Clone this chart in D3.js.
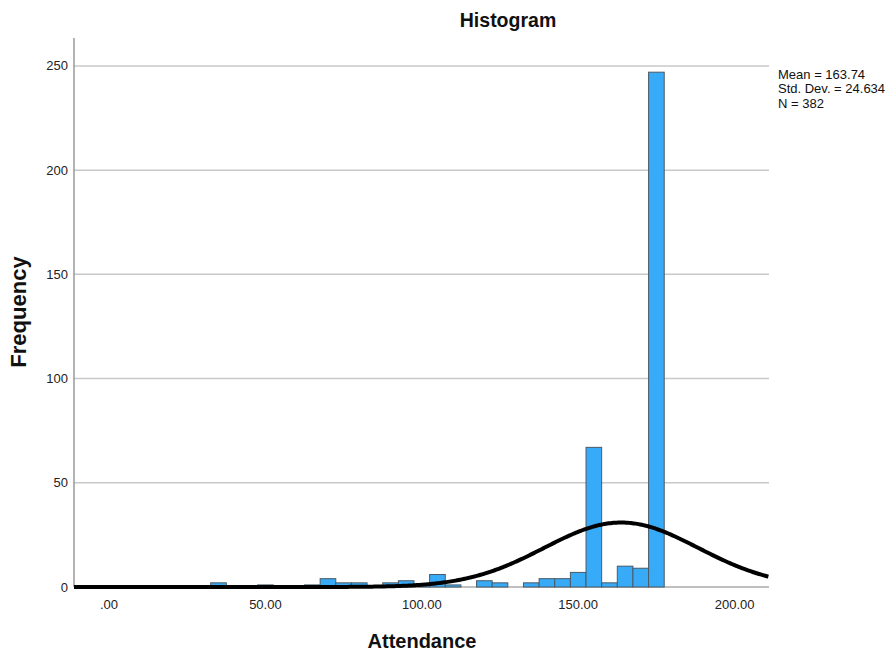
<!DOCTYPE html>
<html>
<head>
<meta charset="utf-8">
<script src="https://cdn.jsdelivr.net/npm/d3@7"></script>
<style>
  html, body { margin: 0; padding: 0; background: #fff; }
  svg { display: block; font-family: "Liberation Sans", Arial, sans-serif; }
</style>
</head>
<body>
<svg id="chart" width="888" height="652"></svg>
<script>
// Bin centers (width 5) and counts
const binCenters = [35, 50, 65, 70, 75, 80, 90, 95, 100, 105, 110, 120, 125, 135, 140, 145, 150, 155, 160, 165, 170, 175];
const counts     = [ 2,  1,  1,  4,  2,  2,  2,  3,   1,   6,   1,   3,   2,   2,   4,   4,   7,  67,   2,  10,   9, 247];
const binWidth = 5;
const xTicks = [0, 50, 100, 150, 200];
const yTicks = [0, 50, 100, 150, 200, 250];
const stats = { mean: 163.74, sd: 24.634, n: 382 };
const legendLines = ["Mean = 163.74", "Std. Dev. = 24.634", "N = 382"];

const svg = d3.select("#chart");
const plotLeft = 74, plotRight = 769, plotTop = 38, plotBottom = 587;

const x = d3.scaleLinear().domain([-11.2, 211]).range([plotLeft, plotRight]);
const y = d3.scaleLinear().domain([0, 263.4]).range([plotBottom, plotTop]);

// gridlines
svg.append("g").selectAll("line").data(yTicks.filter(d => d > 0)).join("line")
  .attr("x1", plotLeft).attr("x2", plotRight)
  .attr("y1", d => y(d)).attr("y2", d => y(d))
  .attr("stroke", "#c8c8c8").attr("stroke-width", 1.5);

// baseline
svg.append("line").attr("x1", plotLeft).attr("x2", plotRight).attr("y1", plotBottom).attr("y2", plotBottom)
  .attr("stroke", "#aaaaaa").attr("stroke-width", 1.5);

// y axis line
svg.append("line").attr("x1", plotLeft).attr("x2", plotLeft).attr("y1", plotTop).attr("y2", plotBottom)
  .attr("stroke", "#999").attr("stroke-width", 1.5);

// bars
const bars = binCenters.map((c, i) => ({ c, v: counts[i] }));
svg.append("g").selectAll("rect").data(bars).join("rect")
  .attr("x", d => x(d.c - binWidth / 2))
  .attr("width", d => x(d.c + binWidth / 2) - x(d.c - binWidth / 2))
  .attr("y", d => y(d.v))
  .attr("height", d => y(0) - y(d.v))
  .attr("fill", "#38abf8")
  .attr("stroke", "#4a5a66").attr("stroke-width", 1);

// normal curve
const curveScale = stats.n * binWidth / (stats.sd * Math.sqrt(2 * Math.PI));
const xs = d3.range(-11.2, 211.01, 0.5);
const line = d3.line().x(d => x(d)).y(d => y(curveScale * Math.exp(-0.5 * Math.pow((d - stats.mean) / stats.sd, 2))));
svg.append("path").datum(xs).attr("d", line)
  .attr("fill", "none").attr("stroke", "#000").attr("stroke-width", 4);

// y tick labels
svg.append("g").selectAll("text").data(yTicks).join("text")
  .attr("x", plotLeft - 6).attr("y", d => y(d)).attr("dy", "0.35em")
  .attr("text-anchor", "end").attr("font-size", 13).attr("fill", "#222")
  .text(d => d);

// x tick labels
const fmt = d => d === 0 ? ".00" : d.toFixed(2);
svg.append("g").selectAll("text").data(xTicks).join("text")
  .attr("x", d => x(d)).attr("y", 609)
  .attr("text-anchor", "middle").attr("font-size", 13).attr("fill", "#222")
  .text(fmt);

// title
svg.append("text").attr("x", 508).attr("y", 27).attr("text-anchor", "middle")
  .attr("font-size", 19.5).attr("font-weight", "bold").attr("fill", "#111").text("Histogram");

// axis titles
svg.append("text").attr("x", 422).attr("y", 648).attr("text-anchor", "middle")
  .attr("font-size", 20).attr("font-weight", "bold").attr("fill", "#111").text("Attendance");
svg.append("text").attr("transform", "translate(26,312) rotate(-90)").attr("text-anchor", "middle")
  .attr("font-size", 22).attr("font-weight", "bold").attr("fill", "#111").text("Frequency");

// stats legend
svg.append("g").selectAll("text").data(legendLines).join("text")
  .attr("x", 778).attr("y", (d, i) => 78.5 + i * 14.5)
  .attr("font-size", 13).attr("fill", "#111")
  .text(d => d);
</script>
</body>
</html>
